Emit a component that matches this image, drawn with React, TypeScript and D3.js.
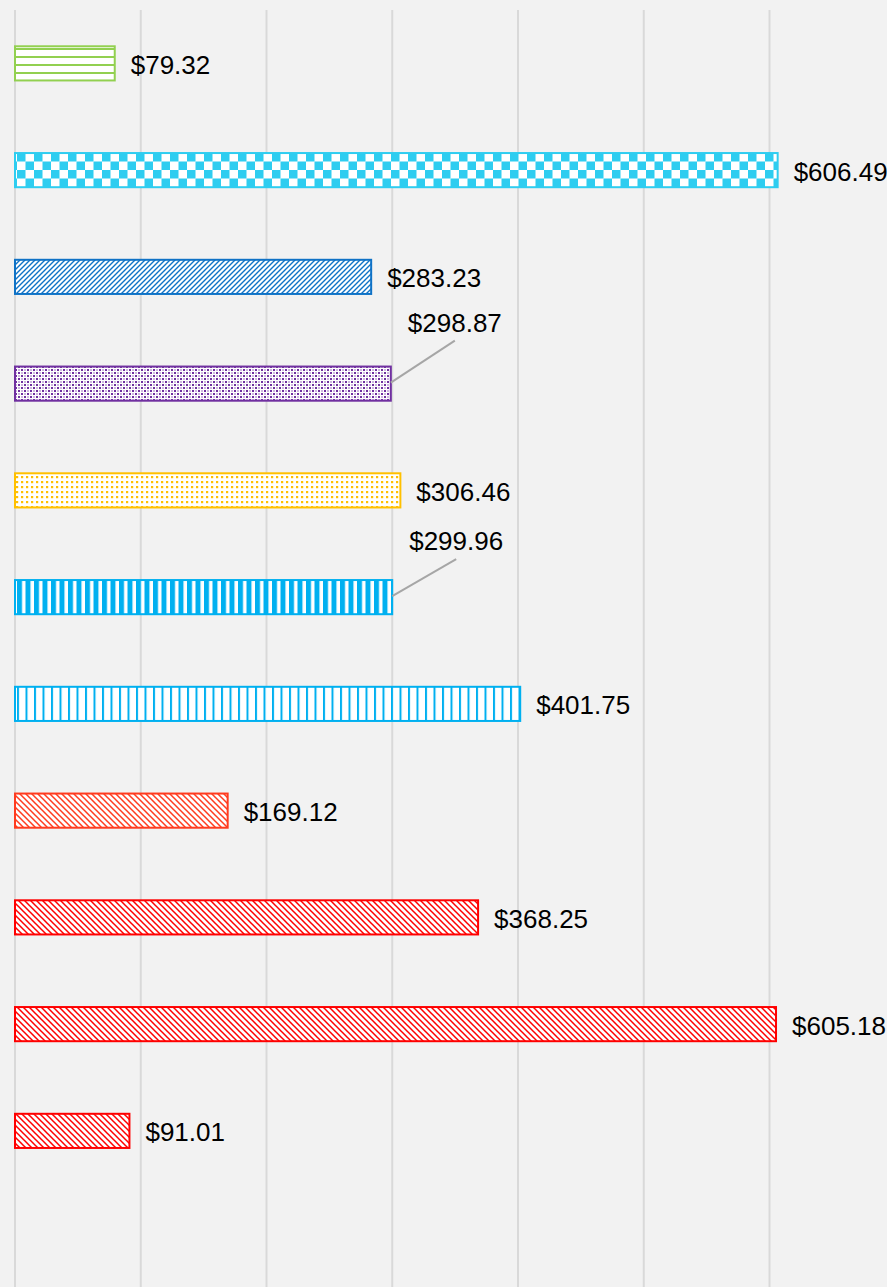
import React from "react";
import * as d3 from "d3";

const categories = ["A", "B", "C", "D", "E", "F", "G", "H", "I", "J", "K"];
const values = [79.32, 606.49, 283.23, 298.87, 306.46, 299.96, 401.75, 169.12, 368.25, 605.18, 91.01];
const colors = ["#92d050", "#2ecdf0", "#0f72c6", "#7030a0", "#ffc000", "#00b0f0", "#00b0f0", "#ff3b1f", "#ff0000", "#ff0000", "#ff0000"];
const patterns = ["hlines", "checker", "fdiag", "smallcheck", "dots", "vthick", "vthin", "bdiag", "bdiag", "bdiag", "bdiag"];
const ticks = [0, 100, 200, 300, 400, 500, 600];
const leaderIdx = [3, 5];
const leaderRise = [42, 37];

const W = 887, H = 1287;

function Pattern({ id, kind, color }: { id: string; kind: string; color: string }) {
  switch (kind) {
    case "hlines":
      return (
        <pattern id={id} patternUnits="userSpaceOnUse" width={8} height={8}>
          <rect width={8} height={8} fill="#fff" />
          <rect y={0} width={8} height={2} fill={color} />
        </pattern>
      );
    case "checker":
      return (
        <pattern id={id} patternUnits="userSpaceOnUse" width={17} height={17}>
          <rect width={17} height={17} fill="#fff" />
          <rect x={0} y={0} width={8.5} height={8.5} fill={color} />
          <rect x={8.5} y={8.5} width={8.5} height={8.5} fill={color} />
        </pattern>
      );
    case "fdiag":
      return (
        <pattern id={id} patternUnits="userSpaceOnUse" width={5} height={5}>
          <rect width={5} height={5} fill="#fff" />
          <path d="M-1,6 L6,-1 M-1,1 L1,-1 M4,6 L6,4" stroke={color} strokeWidth={1.4} />
        </pattern>
      );
    case "smallcheck":
      return (
        <pattern id={id} patternUnits="userSpaceOnUse" width={6} height={6}>
          <rect width={6} height={6} fill="#fff" />
          <rect x={0} y={0} width={2} height={2} fill={color} />
          <rect x={3} y={3} width={2} height={2} fill={color} />
          <rect x={3} y={0} width={2} height={2} fill={color} opacity={0.35} />
          <rect x={0} y={3} width={2} height={2} fill={color} opacity={0.35} />
        </pattern>
      );
    case "dots":
      return (
        <pattern id={id} patternUnits="userSpaceOnUse" width={5} height={5}>
          <rect width={5} height={5} fill="#fff" />
          <rect x={1} y={1} width={2.2} height={2.2} fill={color} />
        </pattern>
      );
    case "vthick":
      return (
        <pattern id={id} patternUnits="userSpaceOnUse" width={8.5} height={8}>
          <rect width={8.5} height={8} fill="#fff" />
          <rect x={0} y={0} width={5} height={8} fill={color} />
        </pattern>
      );
    case "vthin":
      return (
        <pattern id={id} patternUnits="userSpaceOnUse" width={8.5} height={8}>
          <rect width={8.5} height={8} fill="#fff" />
          <rect x={0} y={0} width={2} height={8} fill={color} />
        </pattern>
      );
    default:
      return (
        <pattern id={id} patternUnits="userSpaceOnUse" width={6} height={6}>
          <rect width={6} height={6} fill="#fff" />
          <path d="M-1,-1 L7,7 M-1,5 L1,7 M5,-1 L7,1" stroke={color} strokeWidth={1.5} />
        </pattern>
      );
  }
}

export default function App() {
  const x0 = 15;
  const x = d3.scaleLinear().domain([0, 100]).range([x0, x0 + 125.75]);
  const y = d3.scaleBand<string>().domain(categories).range([10, 10 + 106.75 * 11]).paddingInner(0.68).paddingOuter(0.34);
  const bh = y.bandwidth();
  const font = "Liberation Sans, Arial, sans-serif";

  return (
    <svg width={W} height={H} style={{ position: "absolute", left: 0, top: 0, display: "block" }}>
      <defs>
        {categories.map((c, i) => (
          <Pattern key={c} id={`pat${i}`} kind={patterns[i]} color={colors[i]} />
        ))}
      </defs>
      <rect width={W} height={H} fill="#f2f2f2" />
      {ticks.map((t) => (
        <line key={t} x1={x(t)} x2={x(t)} y1={10} y2={H} stroke="#d9d9d9" strokeWidth={2} />
      ))}
      {categories.map((c, i) => {
        const yy = y(c)!;
        const xe = x(values[i]);
        const cy = yy + bh / 2;
        const li = leaderIdx.indexOf(i);
        const label = d3.format("$.2f")(values[i]);
        return (
          <g key={c}>
            <rect x={x0} y={yy} width={xe - x0} height={bh} fill={`url(#pat${i})`} stroke={colors[i]} strokeWidth={2} />
            {li >= 0 ? (
              <g>
                <line x1={xe} y1={cy - 1} x2={xe + 64} y2={cy - 1 - leaderRise[li]} stroke="#a6a6a6" strokeWidth={2} />
                <text x={xe + 64} y={cy - leaderRise[li] - 19} textAnchor="middle" dominantBaseline="central" fontFamily={font} fontSize={26} fill="#000">
                  {label}
                </text>
              </g>
            ) : (
              <text x={xe + 16} y={cy + 1.5} dominantBaseline="central" fontFamily={font} fontSize={26} fill="#000">
                {label}
              </text>
            )}
          </g>
        );
      })}
    </svg>
  );
}
